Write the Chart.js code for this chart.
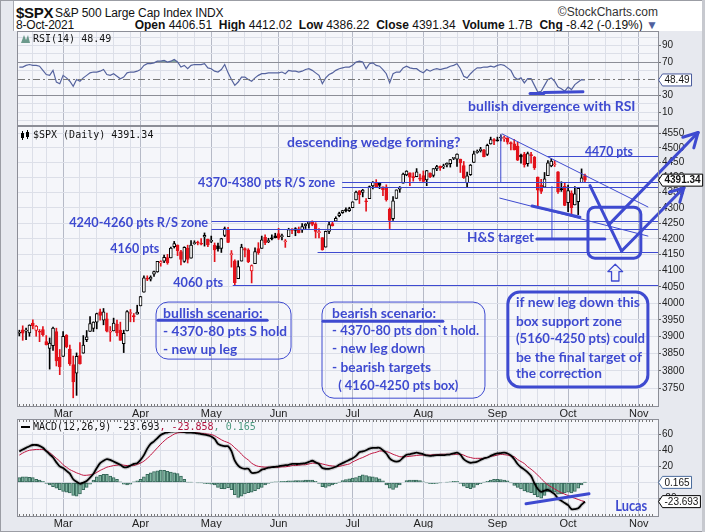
<!DOCTYPE html>
<html>
<head>
<meta charset="utf-8">
<title>$SPX S&amp;P 500 Large Cap Index</title>
<script src="https://cdn.jsdelivr.net/npm/chart.js@4.4.1/dist/chart.umd.min.js"></script>
<style>
  html, body { margin: 0; padding: 0; background: #fff; }
  #page { position: relative; width: 705px; height: 532px; overflow: hidden;
          background: #e7e9ef; font-family: "Liberation Sans", Arial, sans-serif; color: #111; }
  #frame { position: absolute; left: 0; top: 0; width: 701px; height: 530px; border: 1px solid #9b9da4; }
  #head { position: absolute; left: 13px; top: 1px; width: 688px; height: 30px; background: #fff; border-left: 1px solid #a9abb2; }
  #edge { position: absolute; left: 702px; top: 0; width: 3px; height: 532px; background: #c7c9cf; }
  canvas { position: absolute; left: 0; top: 0; }
  .txt { position: absolute; white-space: nowrap; font-size: 12px; line-height: 14px; }
  .txt b { font-weight: bold; }
</style>
</head>
<body>
<div id="page">
  <div id="frame"></div>
  <div id="head"></div>
  <div id="edge"></div>
  <div class="txt" style="left:16px;top:4px;font-size:15px;line-height:18px;font-weight:bold;letter-spacing:-0.3px">$SPX</div>
  <div class="txt" style="left:55px;top:6px;letter-spacing:-0.1px">S&amp;P 500 Large Cap Index INDX</div>
  <div class="txt" style="right:47px;top:5px;color:#333">&copy;StockCharts.com</div>
  <div class="txt" style="left:16px;top:18px;letter-spacing:-0.2px">8-Oct-2021</div>
  <div class="txt" style="right:47px;top:18px"><b>Open</b> 4406.51 &nbsp;<b>High</b> 4412.02 &nbsp;<b>Low</b> 4386.22 &nbsp;<b>Close</b> 4391.34 &nbsp;<b>Volume</b> 1.7B &nbsp;<b>Chg</b> -8.42 (-0.19%) <span style="color:#50609e">&#9660;</span></div>
  <canvas id="rsiChart" width="705" height="532"></canvas>
  <canvas id="priceChart" width="705" height="532"></canvas>
  <canvas id="macdChart" width="705" height="532"></canvas>
</div>
<script>
// trading days on the time axis (2021); Oct 11 onwards is empty space on the right
const febDays = [9, 10, 11, 12, 16, 17, 18, 19, 22, 23, 24, 25, 26];
const marDays = [1, 2, 3, 4, 5, 8, 9, 10, 11, 12, 15, 16, 17, 18, 19, 22, 23, 24, 25, 26, 29, 30, 31];
const aprDays = [1, 5, 6, 7, 8, 9, 12, 13, 14, 15, 16, 19, 20, 21, 22, 23, 26, 27, 28, 29, 30];
const mayDays = [3, 4, 5, 6, 7, 10, 11, 12, 13, 14, 17, 18, 19, 20, 21, 24, 25, 26, 27, 28];
const junDays = [1, 2, 3, 4, 7, 8, 9, 10, 11, 14, 15, 16, 17, 18, 21, 22, 23, 24, 25, 28, 29, 30];
const julDays = [1, 2, 6, 7, 8, 9, 12, 13, 14, 15, 16, 19, 20, 21, 22, 23, 26, 27, 28, 29, 30];
const augDays = [2, 3, 4, 5, 6, 9, 10, 11, 12, 13, 16, 17, 18, 19, 20, 23, 24, 25, 26, 27, 30, 31];
const sepDays = [1, 2, 3, 7, 8, 9, 10, 13, 14, 15, 16, 17, 20, 21, 22, 23, 24, 27, 28, 29, 30];
const octDays = [1, 4, 5, 6, 7, 8, 11, 12, 13, 14, 15, 18, 19, 20, 21, 22, 25, 26, 27, 28, 29];
const novDays = [1, 2, 3, 4, 5];
const monthNames = ['Feb', 'Mar', 'Apr', 'May', 'Jun', 'Jul', 'Aug', 'Sep', 'Oct', 'Nov'];

// daily candles, Feb 9 .. Oct 8
const open = [3910,3920,3916,3911,3940,3918,3915,3921,3885,3865,3873,3915,3839,
  3842,3904,3863,3818,3793,3844,3851,3891,3915,3924,3943,3974,3949,3953,3913,3917,3937,3919,3879,3917,3969,3963,3967,
  3992,4034,4075,4074,4089,4096,4124,4130,4141,4140,4175,4180,4160,4129,4171,4139,4185,4189,4185,4206,4199,
  4192,4180,4178,4170,4211,4229,4150,4131,4075,4130,4169,4165,4099,4122,4169,4170,4205,4191,4201,4210,
  4217,4207,4191,4207,4229,4233,4232,4229,4242,4248,4255,4248,4220,4204,4174,4224,4249,4257,4275,4284,4293,4291,
  4301,4326,4356,4351,4321,4330,4372,4381,4381,4369,4368,4296,4265,4331,4361,4381,4409,4416,4403,4403,4396,
  4407,4392,4415,4407,4429,4438,4436,4442,4447,4464,4462,4462,4440,4382,4410,4451,4485,4491,4493,4478,4514,4529,
  4528,4534,4532,4535,4518,4514,4506,4475,4479,4447,4477,4469,4402,4375,4368,4406,4439,4443,4419,4362,4371,
  4317,4348,4310,4320,4383,4406.51];
const high = [3919,3932,3925,3935,3950,3933,3921,3930,3903,3896,3928,3925,3862,
  3915,3906,3875,3843,3852,3882,3903,3918,3960,3944,3970,3982,3984,3970,3930,3955,3949,3943,3919,3978,3981,3969,3994,
  4021,4084,4084,4084,4099,4129,4131,4149,4151,4174,4192,4181,4164,4175,4180,4195,4194,4193,4201,4219,4199,
  4209,4187,4187,4202,4238,4237,4163,4134,4131,4183,4172,4169,4118,4172,4188,4209,4213,4202,4213,4218,
  4234,4215,4198,4234,4233,4236,4238,4249,4249,4256,4258,4252,4233,4204,4225,4255,4256,4271,4286,4292,4300,4302,
  4320,4355,4357,4361,4330,4372,4387,4393,4383,4369,4376,4300,4337,4359,4370,4415,4423,4416,4416,4430,4412,
  4422,4424,4416,4430,4441,4439,4445,4449,4461,4468,4480,4462,4454,4418,4444,4489,4493,4502,4495,4513,4537,4532,
  4537,4545,4541,4535,4521,4529,4520,4479,4485,4486,4485,4471,4402,4394,4417,4457,4463,4457,4420,4386,4383,
  4375,4356,4370,4365,4429,4412.02];
const low = [3902,3889,3891,3901,3923,3901,3885,3901,3875,3805,3859,3814,3789,
  3842,3867,3816,3723,3730,3819,3851,3885,3915,3915,3923,3949,3935,3914,3886,3917,3902,3889,3853,3917,3944,3944,3967,
  3992,4034,4069,4068,4082,4095,4114,4125,4120,4140,4171,4147,4118,4126,4124,4139,4183,4181,4181,4177,4175,
  4188,4128,4161,4157,4207,4188,4111,4056,4075,4130,4143,4125,4062,4122,4151,4170,4182,4188,4197,4203,
  4198,4197,4173,4207,4217,4210,4219,4221,4233,4234,4242,4203,4203,4164,4174,4217,4241,4257,4271,4282,4287,4288,
  4301,4326,4314,4336,4289,4330,4362,4368,4363,4340,4322,4233,4259,4331,4351,4381,4406,4373,4388,4403,4389,
  4385,4373,4400,4402,4423,4424,4430,4436,4435,4460,4437,4417,4397,4368,4407,4451,4482,4486,4469,4474,4513,4511,
  4523,4524,4522,4513,4493,4493,4457,4448,4435,4438,4448,4427,4305,4347,4367,4406,4436,4437,4347,4354,4307,
  4288,4279,4310,4278,4383,4386.22];
const close = [3911,3910,3917,3934,3932,3931,3913,3906,3876,3881,3925,3829,3811,
  3901,3870,3820,3768,3842,3821,3875,3899,3939,3943,3969,3963,3974,3916,3913,3940,3911,3889,3910,3975,3971,3959,3973,
  4020,4078,4074,4080,4097,4129,4128,4142,4125,4171,4185,4163,4135,4173,4135,4180,4188,4187,4183,4211,4181,
  4192,4165,4168,4201,4233,4189,4153,4063,4113,4174,4164,4128,4116,4160,4156,4197,4188,4195,4200,4204,
  4202,4208,4192,4230,4227,4227,4220,4239,4247,4255,4246,4224,4222,4166,4224,4246,4242,4266,4281,4291,4291,4298,
  4320,4352,4343,4358,4320,4370,4385,4369,4374,4360,4327,4259,4323,4359,4368,4412,4422,4401,4400,4419,4395,
  4387,4423,4403,4430,4437,4433,4436,4448,4460,4468,4479,4449,4400,4406,4442,4480,4486,4496,4470,4509,4529,4523,
  4524,4537,4535,4520,4514,4493,4458,4469,4443,4481,4474,4433,4358,4354,4396,4449,4455,4443,4353,4360,4308,
  4357,4301,4346,4364,4399,4391.34];

// RSI(14)
const rsi = [64,64,66,67,66,66,65,60,55,54, 60,46,44,54,51,47,41,49,47,51,
  54,57,58,58,59,61,55,54,56,53, 50,52,57,58,58,59,61,66,68,68, 69,71,71,72,70,71,73,70,64,66,
  62,66,67,67,67,68,63,62,59,58, 61,67,57,49,42,46,52,52,49,47, 51,54,56,56,57,57,57,57,58,56,
  60,59,59,58,59,61,62,60,57,54, 44,51,55,57,60,62,63,64,64,66, 70,71,70,62,68,69,66,65,61,56,
  45,56,58,58,63,65,63,62,62,59, 57,61,59,61,62,61,62,63,65,66, 68,62,53,51,56,60,63,63,64,64,
  65,64,66,67,66,63,60,52,49,51, 45,50,50,42,34,35,42,49,51,47, 40,38,35,40,37,43,46,49,48.49];

// MACD(12,26,9)
const macd = [38.5,41,43,45,46.5,46.5,45.5,43,39,35, 31,25,20,18,14.5,11,4,1,-1.5,0,
  2,6,11,18,24,27,29,28,26,24, 22,19,19,21,23,24,28,34,42,48, 51,55,59,61,62,63,63.5,63.5,63,62.5,
  62,62,61.5,61,60,59.5,58.5,57,54,48, 46,45,45,39,27,21,18,17,17,12, 12,13,16,17,18.5,19,19.5,20,21,21.5,
  22,23,23,23,23.5,24,25.5,27,25,23, 18,17,17,18,19.5,22,24,26,28,30, 33,37.5,38.5,40,42,43,43,43,40,36,
  30,27,26,27,31,34.5,35,36,37,36, 35,33.5,33,33.5,34,34,34,34.5,35,36, 37,34.5,29,26,24.5,25,26,28,30,31,
  33,35,36,36.5,37,36,33.5,29,23,19, 16,12.5,8,-1,-8,-11.5,-10,-9,-11.5,-14.5, -20,-22.5,-25.5,-28,-33,-33,-32,-27.5,-23.693];
const signal = [34,36.5,38.5,40,40.5,41,41,41,39.5,37, 33.5,30,26.5,22,19,16,14,12,10.5,9,
  9,9.5,10.5,12.5,15,17,19,20,21,21.5, 22,21.5,21,21,21,22.5,24,26.5,30,34, 38.5,43,47.5,51.5,55,57.5,60,61.5,62,62,
  62,62,62,61.5,61,60.5,60,59.5,58,55.5, 53,51,49.5,47,43,39.5,35,31,28,24, 21.5,20,19.5,19,19,19,19,19,19.5,19.5,
  20,21,21,21.5,22,22,23,24,24,24, 23,22,21,20.5,20,20,21,22,23,25.5, 27.5,29.5,31,33,35,36.5,37.5,39,39,38.5,
  37,35,33.5,32,32,32,32.5,33,33.5,34, 34,34,34,34.5,34.5,35,35,35,35,35, 35,35,34,32,31,30,30,30,30,31,
  32.5,33,34,35,34.5,34,33,32,28.5,26, 23.5,19.5,16.5,13,9,5,0.5,-3,-5.5,-8, -10.5,-12.5,-14.5,-16,-18,-19.5,-21,-22.5,-23.858];
const hist = [6,7,7,6.5,6,4,3,1.5,-1,-3, -5,-7,-9,-11,-12,-13,-16,-17,-14,-9,
  -6,-2,3,7,9,10,10,8,6,4, 1,-2,-3,-2,1,2,4,7,10,12, 13.5,14.5,15.5,15,14,13,12,11,8,4,
  0.5,0.3,0,-0.3,-0.5,-1,-1.5,-2,-3,-6, -7.5,-8,-6.5,-9,-15,-18.5,-17,-14,-12.5,-12, -10,-8,-6,-3,-1,0.5,1,1,1.5,1.5,
  2,2,2.5,2.5,2.5,3,3,3,1.5,-1, -5,-6,-4.5,-3,-1.5,0.5,2.5,3.5,4.5,5.5, 6,8,9.5,8.5,7.5,7,6,4.5,2,-3,
  -7,-8.5,-6,-3,0,2.5,3,3,3,2.5, 1,-0.5,-1.5,-1.5,-1,-0.5,0,0.5,1,1.5, 1.5,-1,-4.5,-6.5,-7.5,-6,-3,-1.5,0.5,1.5,
  3,4,4,3.5,3,2,-0.5,-3.5,-6,-8, -10.5,-12,-12.5,-15,-18,-19.5,-16,-11.5,-11,-12, -14.5,-14,-13,-12,-13,-11,-7,-3,0.165];

const priceTicks = [3750, 3800, 3850, 3900, 3950, 4000, 4050, 4100, 4150, 4200, 4250, 4300, 4350, 4400, 4450, 4500, 4550];
const rsiTicks = [0, 10, 20, 30, 40, 50, 60, 70, 80, 90, 100];
const rsiLabels = [10, 30, 70, 90];
const macdTicks = [-20, 0, 20, 40, 60];

const BLUE = '#3e4ad0';
const PLOT_BG = '#f5f6fa';
const X_MIN = -0.4, X_MAX = 189.7;

// time axis: month lines (labelled) and weekly lines
const slots = [];
[febDays, marDays, aprDays, mayDays, junDays, julDays, augDays, sepDays, octDays, novDays].forEach((days, m) => {
  days.forEach(d => slots.push({ date: new Date(2021, m + 1, d), month: m }));
});
const monthAt = {};
const xTicks = [];
slots.forEach((s, i) => {
  if (i > 0 && s.month !== slots[i - 1].month) { monthAt[i] = monthNames[s.month]; xTicks.push(i); }
});
slots.forEach((s, i) => {
  if (i === 0 || s.date.getDay() > slots[i - 1].date.getDay()) return;
  if (xTicks.some(t => monthAt[t] && Math.abs(t - i) <= 2)) return;
  xTicks.push(i);
});
xTicks.sort((a, b) => a - b);

const idx = close.map((_, i) => i);
const candleColor = i => (i > 0 && close[i] < close[i - 1]) ? '#e3121b' : '#000000';

function xAxis(showLabels) {
  return {
    type: 'linear', min: X_MIN, max: X_MAX, offset: false,
    afterBuildTicks: s => { s.ticks = xTicks.map(v => ({ value: v })); },
    afterFit: s => { s.height = showLabels ? 12 : 0; },
    ticks: {
      display: showLabels, autoSkip: false, maxRotation: 0, padding: 1,
      color: '#222', font: { family: 'Liberation Sans', size: 11 },
      callback: v => monthAt[v] || ''
    },
    grid: { offset: false, drawTicks: false, color: c => (c.tick && monthAt[c.tick.value]) ? '#b6bac7' : '#dcdfe8' },
    border: { display: false }
  };
}

function yAxis(ticks, labels, extra) {
  return Object.assign({
    position: 'right',
    afterBuildTicks: s => { s.ticks = ticks.map(v => ({ value: v })); },
    afterFit: s => { s.width = 47; },
    ticks: {
      autoSkip: false, padding: 1, color: '#222', font: { family: 'Liberation Sans', size: 10 },
      callback: v => labels.includes(v) ? String(v) : ''
    },
    grid: { color: '#dcdfe8', tickLength: 3, tickColor: '#666' },
    border: { display: false }
  }, extra);
}

// ---- drawing helpers (all positions come from the chart scales) ----
function P(chart, x, y) { return [chart.scales.x.getPixelForValue(x), chart.scales.y.getPixelForValue(y)]; }

function poly(ctx, pts, w, color, closePath) {
  ctx.save();
  ctx.strokeStyle = color; ctx.lineWidth = w; ctx.lineCap = 'round'; ctx.lineJoin = 'round';
  ctx.beginPath();
  pts.forEach((p, i) => i ? ctx.lineTo(p[0], p[1]) : ctx.moveTo(p[0], p[1]));
  if (closePath) ctx.closePath();
  ctx.stroke();
  ctx.restore();
}

function arrow(ctx, a, b, w, color, head) {
  poly(ctx, [a, b], w, color);
  const ang = Math.atan2(b[1] - a[1], b[0] - a[0]);
  [-0.5, 0.5].forEach(d => {
    poly(ctx, [b, [b[0] - head * Math.cos(ang + d), b[1] - head * Math.sin(ang + d)]], w, color);
  });
}

function roundBox(ctx, a, b, r, w, color) {
  ctx.save();
  ctx.strokeStyle = color; ctx.lineWidth = w;
  ctx.beginPath();
  ctx.roundRect(a[0], a[1], b[0] - a[0], b[1] - a[1], r);
  ctx.stroke();
  ctx.restore();
}

// maxW squeezes the wide digits of the fallback font to the width seen in the picture
function text(ctx, str, p, font, color, maxW) {
  ctx.save();
  ctx.font = font; ctx.fillStyle = color; ctx.textBaseline = 'middle'; ctx.textAlign = 'left';
  if (maxW) ctx.fillText(str, p[0], p[1], maxW); else ctx.fillText(str, p[0], p[1]);
  ctx.restore();
}

function tag(ctx, x, y, str, border, font) {
  ctx.save();
  ctx.font = font;
  const w = ctx.measureText(str).width + 4, h = 12;
  ctx.beginPath();
  ctx.moveTo(x + 0.5, y);
  ctx.lineTo(x + 4.5, y - h / 2);
  ctx.lineTo(x + 4.5 + w, y - h / 2);
  ctx.lineTo(x + 4.5 + w, y + h / 2);
  ctx.lineTo(x + 4.5, y + h / 2);
  ctx.closePath();
  ctx.fillStyle = '#fff'; ctx.fill();
  ctx.strokeStyle = border; ctx.lineWidth = 1; ctx.stroke();
  ctx.fillStyle = '#111'; ctx.textBaseline = 'middle';
  ctx.fillText(str, x + 6.5, y + 0.5);
  ctx.restore();
}

function panelBack(chart) {
  const { ctx, chartArea: a } = chart;
  ctx.save();
  ctx.fillStyle = PLOT_BG;
  ctx.fillRect(a.left, a.top, a.right - a.left, a.bottom - a.top);
  ctx.restore();
}

function panelFrame(chart, dayTicks) {
  const { ctx, chartArea: a } = chart;
  ctx.save();
  ctx.strokeStyle = '#8c8e97'; ctx.lineWidth = 1;
  ctx.strokeRect(Math.round(a.left) - 0.5, Math.round(a.top) - 0.5, Math.round(a.right - a.left) + 1, Math.round(a.bottom - a.top) + 1);
  ctx.strokeStyle = '#777';
  slots.forEach((s, i) => {
    const x = Math.round(chart.scales.x.getPixelForValue(i)) + 0.5;
    if (x > a.right) return;
    ctx.beginPath();
    if (dayTicks.includes('bottom')) { ctx.moveTo(x, a.bottom - 2); ctx.lineTo(x, a.bottom); }
    if (dayTicks.includes('top')) { ctx.moveTo(x, a.top); ctx.lineTo(x, a.top + 2); }
    ctx.stroke();
  });
  ctx.restore();
}

const ANN_FONT = 'bold 14px Lato';
const LEGEND_FONT = '10px "DejaVu Sans Mono"';

// ---- RSI panel ----
const rsiDecor = {
  id: 'rsiDecor',
  beforeDraw: panelBack,
  afterDatasetsDraw(chart) {
    const { ctx, chartArea: a } = chart;
    const y50 = Math.round(chart.scales.y.getPixelForValue(50)) + 0.5;
    ctx.save();
    ctx.strokeStyle = '#777'; ctx.lineWidth = 1; ctx.setLineDash([7, 3, 2, 3]);
    ctx.beginPath(); ctx.moveTo(a.left, y50); ctx.lineTo(a.right, y50); ctx.stroke();
    ctx.restore();
  },
  afterDraw(chart) {
    const { ctx, chartArea: a } = chart;
    poly(ctx, [P(chart, 151.7, 32.2), P(chart, 155.8, 32.2)], 3, BLUE);
    poly(ctx, [P(chart, 155.8, 33.6), P(chart, 167.4, 34.4)], 3, BLUE);
    text(ctx, 'bullish divergence with RSI', P(chart, 133.3, 16.5), ANN_FONT, BLUE, 168);
    // legend
    ctx.save();
    ctx.fillStyle = '#6c9a8c';
    ctx.beginPath(); ctx.moveTo(a.left + 3, a.top + 11); ctx.lineTo(a.left + 6, a.top + 3); ctx.lineTo(a.left + 8, a.top + 8);
    ctx.lineTo(a.left + 10, a.top + 3); ctx.lineTo(a.left + 12, a.top + 11); ctx.closePath(); ctx.fill();
    ctx.restore();
    text(ctx, 'RSI(14) 48.49', [a.left + 15, a.top + 7], LEGEND_FONT, '#111');
    panelFrame(chart, []);
    tag(ctx, a.right, chart.scales.y.getPixelForValue(rsi[rsi.length - 1]), '48.49', '#4a5b9c', '10px "Liberation Sans"');
  }
};

new Chart(document.getElementById('rsiChart'), {
  type: 'line',
  data: {
    datasets: [{
      data: idx.map(i => ({ x: i, y: rsi[i] })),
      borderColor: '#55639e', borderWidth: 1.2, pointRadius: 0, tension: 0,
      fill: { target: { value: 70 }, above: '#86ab9f', below: 'rgba(0,0,0,0)' }
    }]
  },
  options: {
    responsive: false, animation: false, events: [],
    layout: { padding: { left: 18, right: 0, top: 32, bottom: 407 } },
    plugins: { legend: { display: false }, tooltip: { enabled: false } },
    scales: {
      x: xAxis(false),
      y: yAxis(rsiTicks, rsiLabels, {
        min: -5.5, max: 106,
        grid: {
          tickLength: 3, tickColor: c => rsiLabels.includes(c.tick.value) ? '#666' : 'rgba(0,0,0,0)',
          color: c => (c.tick.value === 70 || c.tick.value === 30) ? '#8c8e97' : (c.tick.value === 50 ? 'rgba(0,0,0,0)' : '#dcdfe8')
        }
      })
    }
  },
  plugins: [rsiDecor]
});

// ---- price panel ----
const hLines = [[4472, 157, X_MAX], [4384, 96, X_MAX], [4370, 96, X_MAX], [4257, 57.2, X_MAX], [4232, 57.2, X_MAX], [4160, 88.7, X_MAX], [4056, 63.5, X_MAX]];

// [text, x (day index), y (price), width in the picture]
const notes = [
  ['descending wedge forming?', 79.5, 4520, 175],
  ['4370-4380 pts R/S zone', 53.1, 4382, 137],
  ['4240-4260 pts R/S zone', 14.8, 4251, 139],
  ['4160 pts', 27, 4171, 49],
  ['4060 pts', 45.7, 4062, 50],
  ['4470 pts', 168, 4489, 48],
  ['H&S target', 133, 4203, 67],
  ['bullish scenario:', 42.7, 3970, 100],
  ['- 4370-80 pts S hold', 42.7, 3916, 124],
  ['- new up leg', 42.7, 3863, 74],
  ['bearish scenario:', 92.9, 3970, 104],
  ['- 4370-80 pts don`t hold.', 92.9, 3918, 147],
  ['- new leg down', 92.9, 3866, 93],
  ['- bearish targets', 92.9, 3811, 99],
  ['( 4160-4250 pts box)', 94.7, 3759, 120],
  ['if new leg down this', 147.5, 4003.5, 124],
  ['box support zone', 147.5, 3946, 106],
  ['(5160-4250 pts) could', 147.5, 3893, 129],
  ['be the final target of', 147.5, 3840, 126],
  ['the correction', 147.5, 3791, 86]
];

const priceDecor = {
  id: 'priceDecor',
  beforeDraw: panelBack,
  afterDraw(chart) {
    const { ctx, chartArea: a } = chart;
    const p = (x, y) => P(chart, x, y);
    ctx.save();
    ctx.beginPath(); ctx.rect(a.left, a.top, a.right - a.left, a.bottom - a.top); ctx.clip();
    hLines.forEach(h => {
      const y = Math.round(chart.scales.y.getPixelForValue(h[0])) + 0.5;
      poly(ctx, [[chart.scales.x.getPixelForValue(h[1]), y], [chart.scales.x.getPixelForValue(h[2]), y]], 1, BLUE);
    });
    // head & shoulders measurement
    poly(ctx, [p(143, 4545), p(143, 4384)], 1, BLUE);
    poly(ctx, [p(158.2, 4370), p(158.2, 4200)], 1, BLUE);
    poly(ctx, [p(153.7, 4200), p(173.9, 4200)], 3, BLUE);
    // wedge
    poly(ctx, [p(143.4, 4548), p(186.7, 4303)], 1, BLUE);
    poly(ctx, [p(142.7, 4332), p(186.7, 4209)], 1, BLUE);
    poly(ctx, [p(152.3, 4306), p(166.5, 4270)], 3, BLUE);
    // target box and hollow arrow
    roundBox(ctx, p(168.9, 4302), p(184.6, 4139), 7, 3, BLUE);
    poly(ctx, [p(177, 4120), p(179.2, 4097), p(178.1, 4097), p(178.1, 4068), p(175.9, 4068), p(175.9, 4097), p(174.8, 4097)], 1.3, BLUE, true);
    // scenario boxes
    roundBox(ctx, p(40.6, 4003.5), p(80.7, 3834), 12, 1, BLUE);
    roundBox(ctx, p(89.9, 4003.5), p(138.3, 3722), 12, 1, BLUE);
    roundBox(ctx, p(145.1, 4034), p(186.7, 3754), 12, 3, BLUE);
    poly(ctx, [p(41.2, 3949), p(73.6, 3949)], 3, BLUE);
    poly(ctx, [p(90.2, 3946), p(125.8, 3946)], 3, BLUE);
    ctx.restore();

    // scenario arrows run over the price axis
    poly(ctx, [p(169.5, 4373), p(178.9, 4161.5)], 3, BLUE);
    arrow(ctx, p(178.9, 4161.5), p(197.4, 4366), 3, BLUE, 15);
    arrow(ctx, p(175.2, 4246.6), p(201.6, 4553), 3, BLUE, 16);

    notes.forEach(n => text(ctx, n[0], p(n[1], n[2]), ANN_FONT, BLUE, n[3]));

    // legend
    ctx.save();
    ctx.fillStyle = '#000';
    ctx.fillRect(a.left + 4, a.top + 4, 1, 9); ctx.fillRect(a.left + 3, a.top + 6, 3, 5);
    ctx.fillRect(a.left + 9, a.top + 3, 1, 9); ctx.strokeStyle = '#000'; ctx.strokeRect(a.left + 8.5, a.top + 5.5, 2, 4);
    ctx.restore();
    text(ctx, '$SPX (Daily) 4391.34', [a.left + 15, a.top + 8], LEGEND_FONT, '#111');
    panelFrame(chart, ['bottom']);
    tag(ctx, a.right, chart.scales.y.getPixelForValue(close[close.length - 1]), '4391.34', '#000', 'bold 10px "Liberation Sans"');
  }
};

new Chart(document.getElementById('priceChart'), {
  type: 'bar',
  data: {
    datasets: [{
      // candle bodies
      data: idx.map(i => ({ x: i, y: [open[i], close[i]] })),
      grouped: false, barThickness: 3, borderWidth: 1, borderSkipped: false, minBarLength: 1,
      borderColor: c => candleColor(c.dataIndex),
      backgroundColor: c => close[c.dataIndex] < open[c.dataIndex] ? candleColor(c.dataIndex) : '#ffffff',
      order: 0
    }, {
      // wicks
      data: idx.map(i => ({ x: i, y: [low[i], high[i]] })),
      grouped: false, barThickness: 1, borderWidth: 0,
      backgroundColor: c => candleColor(c.dataIndex),
      order: 1
    }]
  },
  options: {
    responsive: false, animation: false, events: [],
    layout: { padding: { left: 18, right: 0, top: 127, bottom: 114 } },
    plugins: { legend: { display: false }, tooltip: { enabled: false } },
    scales: {
      x: xAxis(true),
      y: yAxis(priceTicks, priceTicks, { type: 'logarithmic', min: 3700, max: 4572 })
    }
  },
  plugins: [priceDecor]
});

// ---- MACD panel ----
const macdDecor = {
  id: 'macdDecor',
  beforeDraw: panelBack,
  afterDraw(chart) {
    const { ctx, chartArea: a } = chart;
    poly(ctx, [P(chart, 150.5, -26.3), P(chart, 169.2, -14)], 3, BLUE);
    text(ctx, 'Lucas', P(chart, 177, -28.8), 'bold 15px Lato', BLUE, 32);
    // legend with its own backing
    ctx.save();
    ctx.fillStyle = PLOT_BG;
    ctx.fillRect(a.left + 1, a.top + 1, 240, 11);
    ctx.fillStyle = '#000'; ctx.fillRect(a.left + 3, a.top + 6, 9, 2);
    ctx.font = LEGEND_FONT; ctx.textBaseline = 'middle';
    let x = a.left + 15;
    [['MACD(12,26,9) -23.693', '#111'], [', -23.858', '#b0123c'], [', 0.165', '#4d9a80']].forEach(s => {
      ctx.fillStyle = s[1]; ctx.fillText(s[0], x, a.top + 7.5); x += ctx.measureText(s[0]).width;
    });
    ctx.restore();
    panelFrame(chart, ['top', 'bottom']);
    tag(ctx, a.right, chart.scales.y.getPixelForValue(hist[hist.length - 1]), '0.165', '#4a6b9c', '10px "Liberation Sans"');
    tag(ctx, a.right, chart.scales.y.getPixelForValue(macd[macd.length - 1]), '-23.693', '#000', '10px "Liberation Sans"');
  }
};

new Chart(document.getElementById('macdChart'), {
  type: 'bar',
  data: {
    datasets: [{
      type: 'line', data: idx.map(i => ({ x: i, y: macd[i] })),
      borderColor: '#000', borderWidth: 1.8, pointRadius: 0, tension: 0.3, order: 0
    }, {
      type: 'line', data: idx.map(i => ({ x: i, y: macd[i] })),
      borderColor: 'rgba(0,0,0,0.16)', borderWidth: 4, pointRadius: 0, tension: 0.3, order: 1
    }, {
      type: 'line', data: idx.map(i => ({ x: i, y: signal[i] })),
      borderColor: '#c01540', borderWidth: 1, pointRadius: 0, tension: 0.3, order: 2
    }, {
      data: idx.map(i => ({ x: i, y: hist[i] })),
      grouped: false, barThickness: 3, borderWidth: 1, borderSkipped: false,
      borderColor: '#36685a', backgroundColor: '#7fb4a0', order: 3
    }]
  },
  options: {
    responsive: false, animation: false, events: [],
    layout: { padding: { left: 18, right: 0, top: 420, bottom: 4 } },
    plugins: { legend: { display: false }, tooltip: { enabled: false } },
    scales: {
      x: xAxis(true),
      y: yAxis(macdTicks, macdTicks, { min: -41.5, max: 77.5 })
    }
  },
  plugins: [macdDecor]
});
</script>
</body>
</html>
